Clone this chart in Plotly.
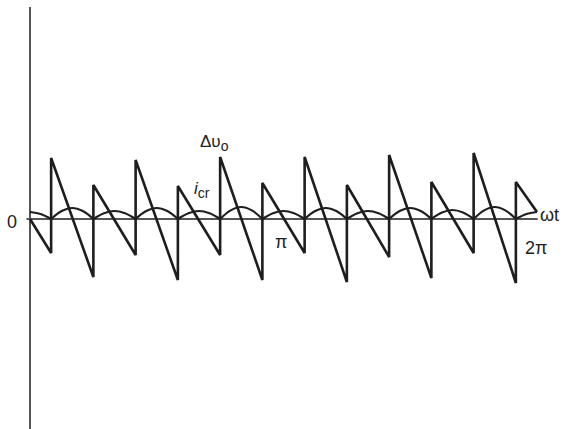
import plotly.graph_objects as go

# ---- data (x in electrical degrees, y in arbitrary units) ----
tooth_deg = [0, 15, 15, 45, 45, 75, 75, 105, 105, 135, 135, 165, 165,
             195, 195, 225, 225, 255, 255, 285, 285, 315, 315, 345, 345, 360]
dvo = [0, -34, 61, -58, 34, -36, 59, -61, 33, -36, 62, -61, 36,
       -34, 62, -63, 34, -38, 64, -59, 37, -34, 66, -64, 37, 7]

arc_centers = [0, 30, 60, 90, 120, 150, 180, 210, 240, 270, 300, 330, 360]
arc_peaks = [7, 11, 8, 11, 8, 12, 8, 11, 8, 11, 9, 12, 7]
arc_offsets = [-15, -7.5, 0, 7.5, 15]
arc_profile = [0, 0.72, 1, 0.72, 0]

tick_pos = [0, 180, 360]
tick_text = ["0", "π", "2π"]

# ---- build arc polyline (separate arcs, cusps at switching instants) ----
icr_x, icr_y = [], []
for c, h in zip(arc_centers, arc_peaks):
    for o, p in zip(arc_offsets, arc_profile):
        x = c + o
        if 0 <= x <= 360:
            icr_x.append(x)
            icr_y.append(h * p)
    icr_x.append(None)
    icr_y.append(None)

fig = go.Figure()

fig.add_trace(go.Scatter(
    x=icr_x, y=icr_y, mode="lines",
    line=dict(color="#1e1e1e", width=2.2, shape="spline", smoothing=1),
    connectgaps=False, hoverinfo="skip", showlegend=False))

fig.add_trace(go.Scatter(
    x=tooth_deg, y=dvo, mode="lines",
    line=dict(color="#1e1e1e", width=2.6),
    hoverinfo="skip", showlegend=False))

# horizontal (ωt) axis
fig.add_shape(type="line", x0=-2.5, x1=360.5, y0=0, y1=0,
              line=dict(color="#555555", width=2), layer="below")

font = dict(family="Liberation Sans, Arial, sans-serif", size=18, color="#222222")
font_lbl = dict(family="Liberation Sans, Arial, sans-serif", size=17, color="#222222")

# tick labels
fig.add_annotation(x=tick_pos[0], y=0, text=tick_text[0], showarrow=False,
                   xanchor="right", yanchor="middle", xshift=-11, yshift=-3, font=font)
fig.add_annotation(x=tick_pos[1], y=0, text=tick_text[1], showarrow=False,
                   xanchor="center", yanchor="top", xshift=-3, yshift=-11, font=font)
fig.add_annotation(x=tick_pos[2], y=0, text=tick_text[2], showarrow=False,
                   xanchor="center", yanchor="top", xshift=-1, yshift=-17, font=font)

# axis name and curve labels
fig.add_annotation(x=360, y=0, text="ωt", showarrow=False,
                   xanchor="left", yanchor="middle", xshift=1, yshift=4, font=font)
fig.add_annotation(x=131, y=76, text="Δυ<sub><span style='font-size:14px'>o</span></sub>",
                   showarrow=False, xanchor="center", yanchor="middle", font=font_lbl)
fig.add_annotation(x=122, y=29, text="<i>i</i><sub><span style='font-size:14px'>cr</span></sub>",
                   showarrow=False, xanchor="center", yanchor="middle", font=font_lbl)

k = 507 / 360.0  # px per degree
fig.update_layout(
    width=565, height=429,
    margin=dict(l=0, r=0, t=7, b=0),
    paper_bgcolor="white", plot_bgcolor="white",
    showlegend=False,
    xaxis=dict(range=[-30 / k, 535 / k], showgrid=False, showticklabels=False,
               ticks="", zeroline=True, zerolinecolor="#555555", zerolinewidth=2,
               fixedrange=True),
    yaxis=dict(range=[-210, 212], showgrid=False, showticklabels=False,
               ticks="", zeroline=False, fixedrange=True),
)

fig.write_html("out.html", config={"displayModeBar": False},
               post_script="document.body.style.margin='0';document.body.style.overflow='hidden';")
